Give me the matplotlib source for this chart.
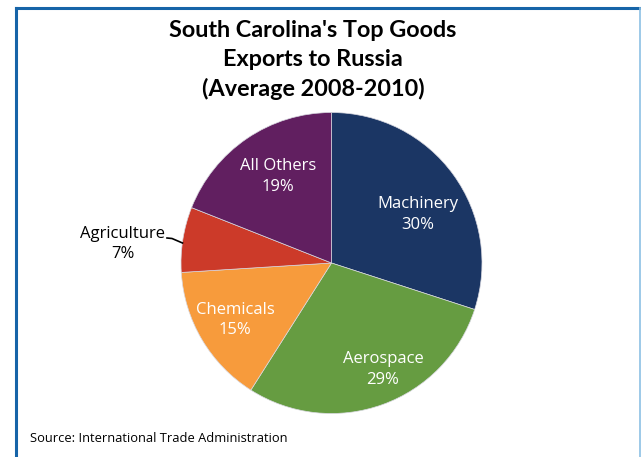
import matplotlib
matplotlib.use('Agg')
import matplotlib.pyplot as plt
from matplotlib.lines import Line2D

# data
categories = ['Machinery', 'Aerospace', 'Chemicals', 'Agriculture', 'All Others']
shares = [30, 29, 15, 7, 19]
colors = ['#1b3664', '#669c41', '#f79b3c', '#cc3a29', '#611f60']

title = "South Carolina's Top Goods\nExports to Russia\n(Average 2008-2010)"
source = 'Source: International Trade Administration'

W, H = 641, 457
fig = plt.figure(figsize=(W / 100, H / 100), dpi=100)
ax = fig.add_axes([0, 0, 1, 1])

cx, cy, r = 331.5, H - 263, 150.5
wedges, _ = ax.pie(shares, startangle=90, counterclock=False, colors=colors,
                   center=(cx, cy), radius=r, frame=True,
                   wedgeprops=dict(edgecolor='#d8d8e0', linewidth=0.5))
ax.set_xlim(0, W)
ax.set_ylim(0, H)
ax.set_aspect('equal')
ax.axis('off')

# label spots inside the slices (pixel offsets from centre)
offsets = {'Machinery': (86.5, 48.5), 'Aerospace': (51.5, -106.5),
           'Chemicals': (-96.5, -57), 'All Others': (-53.5, 86.5)}
lab_font = 'Open Sans'
for name, val in zip(categories, shares):
    if name not in offsets:
        continue
    dx, dy = offsets[name]
    ax.text(cx + dx, cy + dy, f'{name}\n{val}%', ha='center', va='center',
            color='white', fontsize=12, family=lab_font, linespacing=1.4)

# agriculture sits outside with a leader line
i = categories.index('Agriculture')
ax.text(123, H - 244, f'{categories[i]}\n{shares[i]}%', ha='center', va='center',
        color='black', fontsize=12, family=lab_font, linespacing=1.4)
ax.plot([167, 172, 182.5], [H - 238, H - 238.5, H - 243], color='black', lw=1.2)

fig.text(313 / W, 1 - 60 / H, title, ha='center', va='center', fontsize=16.8,
         fontweight='bold', family='Lato', linespacing=1.45)
fig.text(30 / W, 1 - 439 / H, source, ha='left', va='center', fontsize=9.3,
         family=lab_font)

# frame around the graphic
fig.add_artist(Line2D([16 / W, 16 / W], [0, 1 - 8 / H], color='#1664a8', lw=2.2,
                      transform=fig.transFigure))
fig.add_artist(Line2D([16 / W, 1], [1 - 8 / H, 1 - 8 / H], color='#1664a8', lw=2.2,
                      transform=fig.transFigure))
fig.add_artist(Line2D([639.5 / W, 639.5 / W], [0, 1 - 8 / H], color='#8cc0e4', lw=1.2,
                      transform=fig.transFigure))

fig.savefig('out.png', dpi=100)
